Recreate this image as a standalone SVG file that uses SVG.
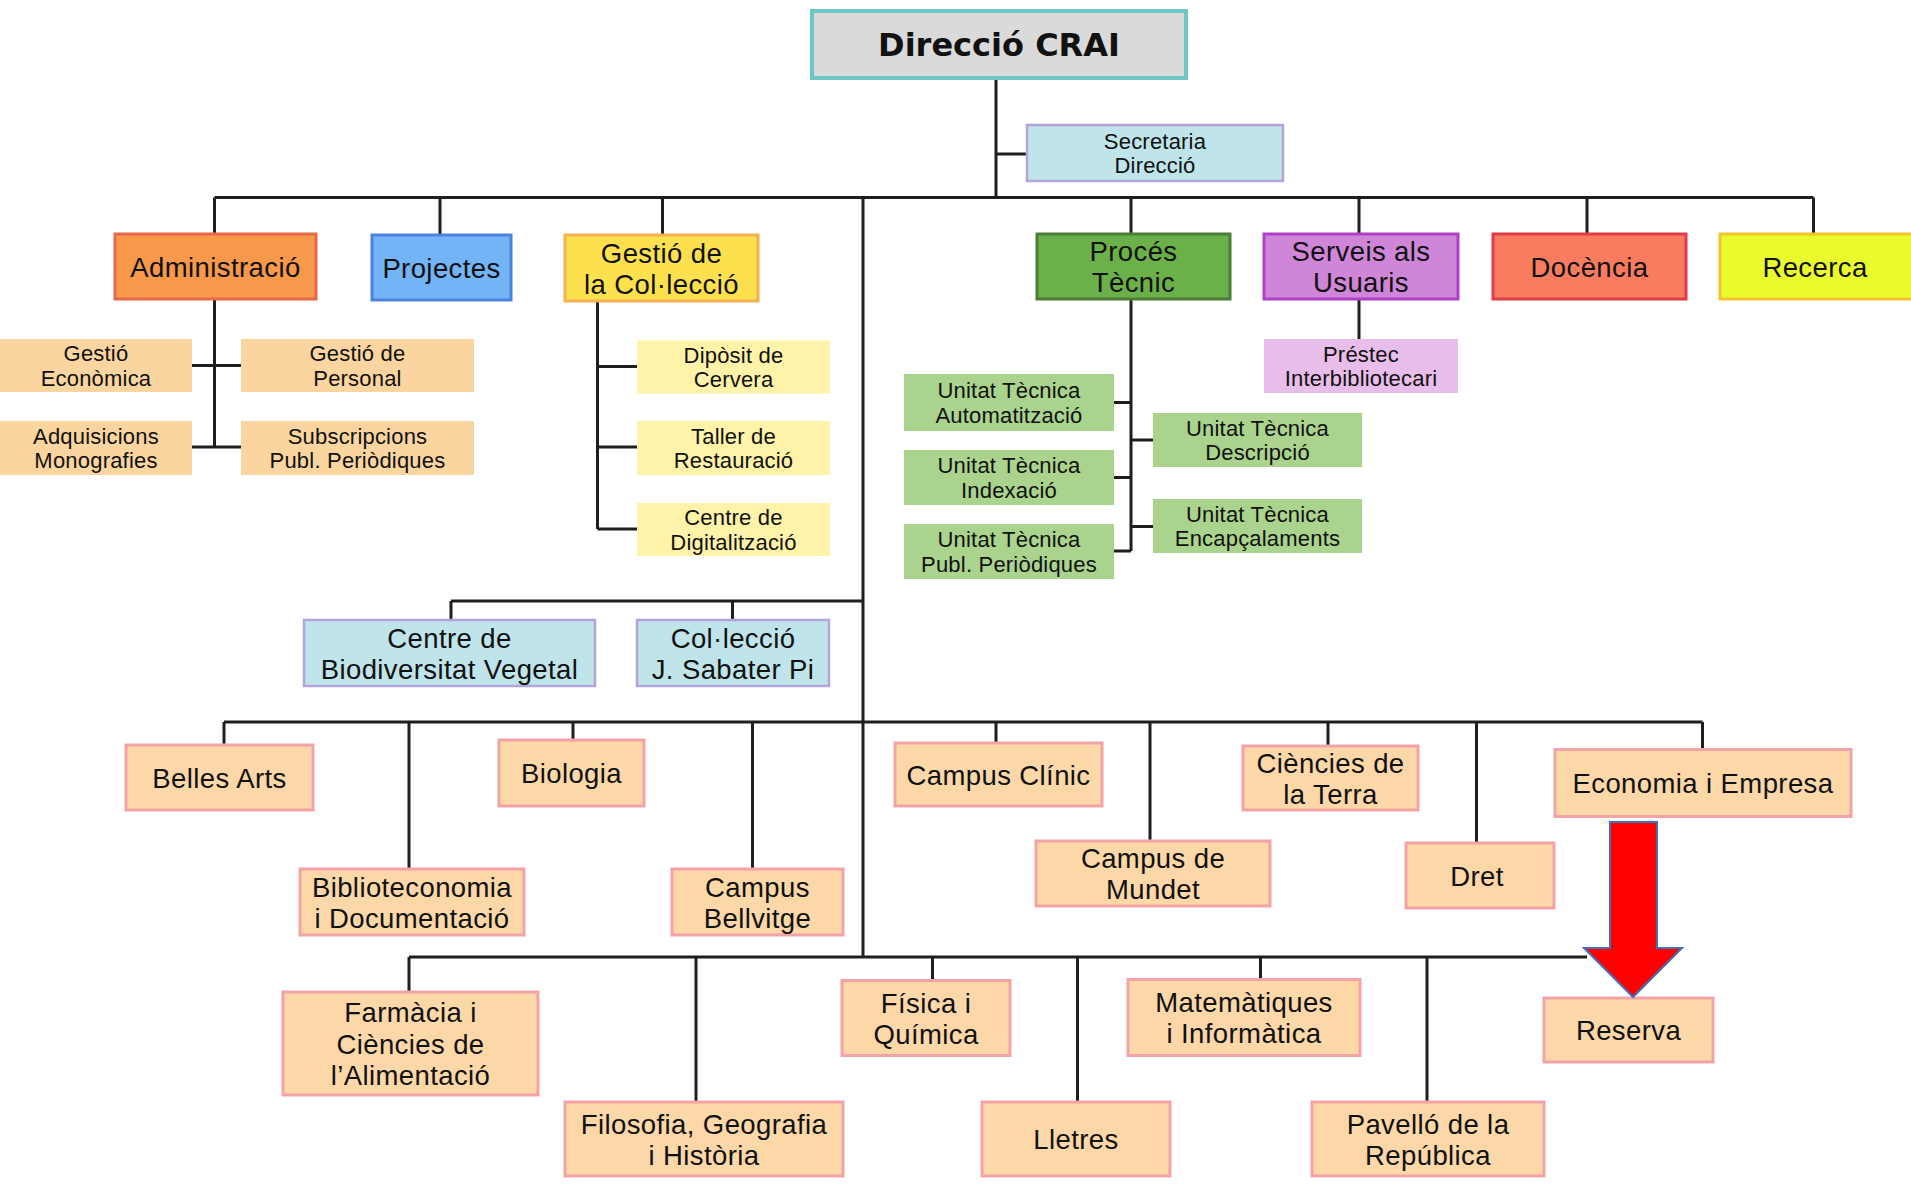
<svg xmlns="http://www.w3.org/2000/svg" width="1911" height="1184" viewBox="0 0 1911 1184">
<style>
.t{font-family:"Liberation Sans",Arial,sans-serif;text-anchor:middle;fill:#111}
.a{font-size:27.5px;letter-spacing:0.4px}
.b{font-size:22px;letter-spacing:0.2px}
.c{font-size:27.5px;letter-spacing:0.4px}
.title{font-family:"DejaVu Sans","Liberation Sans",sans-serif;font-weight:bold;font-size:32px;text-anchor:middle;fill:#111}
.ln{fill:none;stroke:#1e1e1e;stroke-width:3}
.blue{fill:#bfe4ea;stroke:#b3a4dc;stroke-width:2.5}
.peach{fill:#fbd5a0}
.pale{fill:#fef3a8}
.green{fill:#aad38e}
.pink{fill:#e8bde9}
.camp{fill:#fcd7a8;stroke:#f3a2a8;stroke-width:3}
</style>
<rect width="1911" height="1184" fill="#ffffff"/>
<g id="connectors" class="ln">
<path d="M996 78V197.5M996 154H1027M214.5 197.5H1813.5"/>
<path d="M214.5 197.5V234M440 197.5V235M662.5 197.5V235M1131 197.5V234M1359 197.5V234M1587 197.5V234M1813.5 197.5V234"/>
<path d="M863 197.5V957"/>
<path d="M214.5 299V447M192 365.5H241M192 447H241"/>
<path d="M597.5 301V529M597.5 366.5H637M597.5 447H637M597.5 529H637"/>
<path d="M1131 299V551M1114 402.5H1131M1114 477.5H1131M1114 551H1131M1131 440H1153M1131 526.5H1153"/>
<path d="M1359 299V339"/>
<path d="M451 601H863M451 601V620M732.5 601V620"/>
<path d="M224 722H1702.5M224 722V745M409 722V869M573 722V740M752.5 722V869M996 722V743M1150 722V841M1328 722V746M1476.5 722V843M1702.5 722V749.5"/>
<path d="M409 957H1587M409 957V992M696 957V1102M932.5 957V980.5M1077.5 957V1102M1260.5 957V979.5M1427 957V1102"/>
</g>
<g id="direccio"><rect x="812" y="11" width="374" height="67" fill="#dadada" stroke="#6ec7c6" stroke-width="4"/><text class="title" x="999" y="55.5">Direcció CRAI</text></g>
<g id="secretaria"><rect class="blue" x="1027" y="125" width="256" height="56"/><text class="t b" x="1155" y="148.5">Secretaria</text><text class="t b" x="1155" y="173.3">Direcció</text></g>
<g id="administracio"><rect x="115" y="234" width="201" height="65" fill="#f7984a" stroke="#e8684a" stroke-width="3"/><text class="t a" x="215.5" y="276.5">Administració</text></g>
<g id="projectes"><rect x="372" y="235" width="139" height="65" fill="#72b4f5" stroke="#4b82e0" stroke-width="3"/><text class="t a" x="441.5" y="277.5">Projectes</text></g>
<g id="gestio-colleccio"><rect x="565" y="235" width="193" height="66" fill="#fde04d" stroke="#f4b054" stroke-width="3"/><text class="t a" x="661.5" y="262.5">Gestió de</text><text class="t a" x="661.5" y="293.5">la Col·lecció</text></g>
<g id="proces-tecnic"><rect x="1037" y="234" width="193" height="65" fill="#6cb04a" stroke="#4c7d36" stroke-width="3"/><text class="t a" x="1133.5" y="261">Procés</text><text class="t a" x="1133.5" y="292">Tècnic</text></g>
<g id="serveis-usuaris"><rect x="1264" y="234" width="194" height="65" fill="#cf86d9" stroke="#b040c8" stroke-width="3"/><text class="t a" x="1361" y="261">Serveis als</text><text class="t a" x="1361" y="292">Usuaris</text></g>
<g id="docencia"><rect x="1493" y="234" width="193" height="65" fill="#f97c5e" stroke="#e23b48" stroke-width="3"/><text class="t a" x="1589.5" y="276.5">Docència</text></g>
<g id="recerca"><rect x="1720" y="234" width="194" height="65" fill="#e9fb2c" stroke="#f2c231" stroke-width="3"/><text class="t a" x="1815" y="276.5">Recerca</text></g>
<g id="gestio-economica"><rect class="peach" x="0" y="339" width="192" height="53"/><text class="t b" x="96" y="361">Gestió</text><text class="t b" x="96" y="385.8">Econòmica</text></g>
<g id="gestio-personal"><rect class="peach" x="241" y="339" width="233" height="53"/><text class="t b" x="357.5" y="361">Gestió de</text><text class="t b" x="357.5" y="385.8">Personal</text></g>
<g id="adquisicions"><rect class="peach" x="0" y="421" width="192" height="54"/><text class="t b" x="96" y="443.5">Adquisicions</text><text class="t b" x="96" y="468.3">Monografies</text></g>
<g id="subscripcions"><rect class="peach" x="241" y="421" width="233" height="54"/><text class="t b" x="357.5" y="443.5">Subscripcions</text><text class="t b" x="357.5" y="468.3">Publ. Periòdiques</text></g>
<g id="diposit"><rect class="pale" x="637" y="340.5" width="193" height="53"/><text class="t b" x="733.5" y="362.5">Dipòsit de</text><text class="t b" x="733.5" y="387.3">Cervera</text></g>
<g id="taller"><rect class="pale" x="637" y="421" width="193" height="54"/><text class="t b" x="733.5" y="443.5">Taller de</text><text class="t b" x="733.5" y="468.3">Restauració</text></g>
<g id="digitalitzacio"><rect class="pale" x="637" y="503" width="193" height="53"/><text class="t b" x="733.5" y="525">Centre de</text><text class="t b" x="733.5" y="549.8">Digitalització</text></g>
<g id="ut-automatitzacio"><rect class="green" x="904" y="374" width="210" height="57"/><text class="t b" x="1009" y="398">Unitat Tècnica</text><text class="t b" x="1009" y="422.8">Automatització</text></g>
<g id="ut-indexacio"><rect class="green" x="904" y="450" width="210" height="55"/><text class="t b" x="1009" y="473">Unitat Tècnica</text><text class="t b" x="1009" y="497.8">Indexació</text></g>
<g id="ut-publ"><rect class="green" x="904" y="524" width="210" height="55"/><text class="t b" x="1009" y="547">Unitat Tècnica</text><text class="t b" x="1009" y="571.8">Publ. Periòdiques</text></g>
<g id="ut-descripcio"><rect class="green" x="1153" y="413" width="209" height="54"/><text class="t b" x="1257.5" y="435.5">Unitat Tècnica</text><text class="t b" x="1257.5" y="460.3">Descripció</text></g>
<g id="ut-encapcalaments"><rect class="green" x="1153" y="499" width="209" height="54"/><text class="t b" x="1257.5" y="521.5">Unitat Tècnica</text><text class="t b" x="1257.5" y="546.3">Encapçalaments</text></g>
<g id="prestec"><rect class="pink" x="1264" y="339" width="194" height="54"/><text class="t b" x="1361" y="361.5">Préstec</text><text class="t b" x="1361" y="386.3">Interbibliotecari</text></g>
<g id="biodiversitat"><rect class="blue" x="304" y="620" width="291" height="66"/><text class="t c" x="449.5" y="647.5">Centre de</text><text class="t c" x="449.5" y="678.5">Biodiversitat Vegetal</text></g>
<g id="sabater-pi"><rect class="blue" x="637" y="620" width="192" height="66"/><text class="t c" x="733" y="647.5">Col·lecció</text><text class="t c" x="733" y="678.5">J. Sabater Pi</text></g>
<g id="belles-arts"><rect class="camp" x="126" y="745" width="187" height="65"/><text class="t c" x="219.5" y="787.5">Belles Arts</text></g>
<g id="biblioteconomia"><rect class="camp" x="300" y="869" width="224" height="66"/><text class="t c" x="412" y="896.5">Biblioteconomia</text><text class="t c" x="412" y="927.5">i Documentació</text></g>
<g id="biologia"><rect class="camp" x="499" y="740" width="145" height="66"/><text class="t c" x="571.5" y="783">Biologia</text></g>
<g id="bellvitge"><rect class="camp" x="672" y="869" width="171" height="66"/><text class="t c" x="757.5" y="896.5">Campus</text><text class="t c" x="757.5" y="927.5">Bellvitge</text></g>
<g id="clinic"><rect class="camp" x="895" y="743" width="207" height="63"/><text class="t c" x="998.5" y="784.5">Campus Clínic</text></g>
<g id="mundet"><rect class="camp" x="1036" y="841" width="234" height="65"/><text class="t c" x="1153" y="868">Campus de</text><text class="t c" x="1153" y="899">Mundet</text></g>
<g id="terra"><rect class="camp" x="1243" y="746" width="175" height="64"/><text class="t c" x="1330.5" y="772.5">Ciències de</text><text class="t c" x="1330.5" y="803.5">la Terra</text></g>
<g id="dret"><rect class="camp" x="1406" y="843" width="148" height="65"/><text class="t c" x="1477" y="885.5">Dret</text></g>
<g id="economia"><rect class="camp" x="1555" y="749.5" width="296" height="67"/><text class="t c" x="1703" y="793">Economia i Empresa</text></g>
<g id="farmacia"><rect class="camp" x="283" y="992" width="255" height="103"/><text class="t c" x="410.5" y="1022">Farmàcia i</text><text class="t c" x="410.5" y="1053.5">Ciències de</text><text class="t c" x="410.5" y="1085">l’Alimentació</text></g>
<g id="filosofia"><rect class="camp" x="565" y="1102" width="278" height="74"/><text class="t c" x="704" y="1133.5">Filosofia, Geografia</text><text class="t c" x="704" y="1164.5">i Història</text></g>
<g id="fisica"><rect class="camp" x="842" y="980.5" width="168" height="75"/><text class="t c" x="926" y="1012.5">Física i</text><text class="t c" x="926" y="1043.5">Química</text></g>
<g id="lletres"><rect class="camp" x="982" y="1102" width="188" height="74"/><text class="t c" x="1076" y="1149">Lletres</text></g>
<g id="matematiques"><rect class="camp" x="1128" y="979.5" width="232" height="76"/><text class="t c" x="1244" y="1012">Matemàtiques</text><text class="t c" x="1244" y="1043">i Informàtica</text></g>
<g id="pavello"><rect class="camp" x="1312" y="1102" width="232" height="74"/><text class="t c" x="1428" y="1133.5">Pavelló de la</text><text class="t c" x="1428" y="1164.5">República</text></g>
<g id="reserva"><rect class="camp" x="1544" y="998" width="169" height="64"/><text class="t c" x="1628.5" y="1040">Reserva</text></g>
<g id="arrow"><polygon points="1610,822 1657,822 1657,948 1682,948 1633,997 1584,948 1610,948" fill="#ff0000" stroke="#4170b8" stroke-width="2"/></g>
</svg>
